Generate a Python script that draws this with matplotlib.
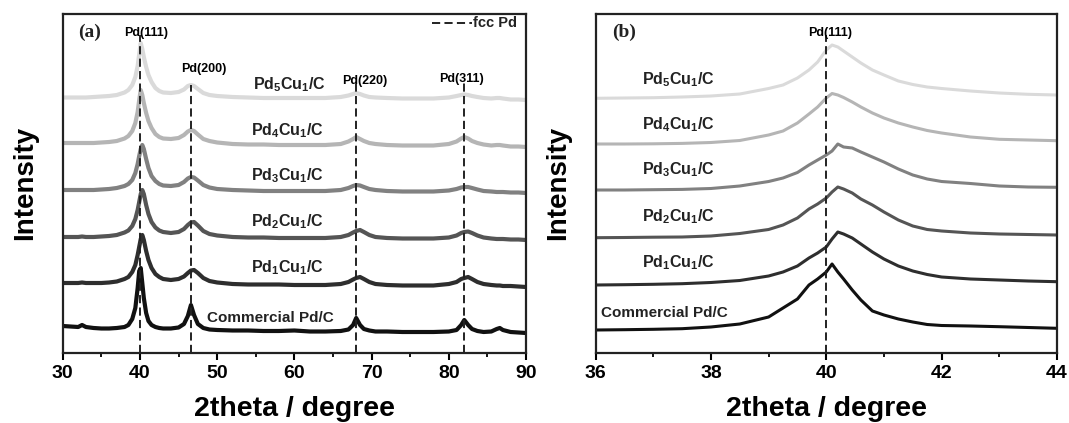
import numpy as np
import matplotlib
matplotlib.use("Agg")
import matplotlib.pyplot as plt
from matplotlib.ticker import MultipleLocator

plt.rcParams['font.family'] = ['Liberation Sans', 'DejaVu Sans']
plt.rcParams['font.weight'] = 'bold'
plt.rcParams['mathtext.fontset'] = 'custom'
plt.rcParams['mathtext.rm'] = 'Liberation Sans:bold'
plt.rcParams['mathtext.it'] = 'Liberation Sans:bold'
plt.rcParams['mathtext.bf'] = 'Liberation Sans:bold'

# sample names, bottom to top
samples = ['Commercial Pd/C', r'Pd$_1$Cu$_1$/C', r'Pd$_2$Cu$_1$/C',
           r'Pd$_3$Cu$_1$/C', r'Pd$_4$Cu$_1$/C', r'Pd$_5$Cu$_1$/C']
colors = ['#111111', '#2e2e2e', '#555555', '#818181', '#b5b5b5', '#dadada']

# reference fcc Pd reflections
fcc_pos = [40.0, 46.6, 68.0, 82.0]
fcc_hkl = ['Pd(111)', 'Pd(200)', 'Pd(220)', 'Pd(311)']

# ---- (a) full scan 30-90 deg ----
tt_a = [30, 31, 32, 32.5, 33, 34, 35, 36, 37, 38, 38.5, 39, 39.4, 39.7, 39.9,
        40.1, 40.3, 40.5, 40.8, 41.1, 41.5, 42, 42.5, 43, 44, 45, 45.7, 46.2,
        46.6, 47.0, 47.5, 48.2, 49, 50, 52, 54, 56, 58, 60, 62, 64, 66, 67,
        67.6, 68.0, 68.5, 69, 69.7, 70.5, 72, 74, 76, 78, 80, 81, 81.6, 82.0,
        82.5, 83, 83.7, 84.5, 85.5, 86.2, 86.6, 87, 88, 89, 90]

int_comm_a = [7, 6.5, 6, 8, 6, 5, 4.5, 4.5, 5, 6, 8, 14, 25, 45, 62,
              65, 50, 35, 20, 12, 8, 6, 5, 4.5, 4.5, 5.5, 9, 17,
              28, 18, 9, 5, 3.5, 3, 2.5, 2.5, 2, 2, 2.5, 1.5, 1.5, 2, 3.5,
              8, 15, 8, 4, 2.5, 1.5, 1.5, 1, 1, 1, 1.5, 3, 8, 13,
              8, 4, 2, 1, 1.5, 4, 5, 3, 1, 0.5, 0]
int_pd1_a = [4, 4, 4, 4.5, 4, 4, 4, 4.5, 5.5, 8, 10, 15, 22, 32, 40,
             48, 52, 47, 36, 27, 19, 13, 10, 8, 7, 8, 10.5, 14,
             16.5, 17, 14, 9, 6, 4.5, 3, 2.5, 2.5, 2.5, 2, 2, 2, 3, 5,
             7.5, 9, 10, 8, 5, 3, 2, 1.5, 1.5, 1.5, 3, 5, 8, 9,
             10, 8, 5, 3, 2, 1.5, 1.5, 1, 1, 0.5, 0]
int_pd2_a = [3, 3, 3, 3.5, 3, 3, 3.5, 4, 5, 7.5, 9.5, 14, 21, 30, 38,
             46, 50, 46, 35, 26, 18, 12.5, 9.5, 8, 7, 8, 11, 15,
             17.5, 18, 14.5, 9, 6, 4.5, 3, 2.5, 2.5, 2, 2, 2, 2, 3, 5,
             7.5, 9, 10, 8, 5, 3, 2, 1.5, 1.5, 1.5, 2.5, 4.5, 7, 8,
             8.5, 7, 4.5, 2.5, 1.5, 1, 1, 1, 0.5, 0.5, 0]
int_pd3_a = [3, 3, 3, 3, 3, 3, 3.5, 4, 5, 7, 9, 13, 20, 29, 37,
             44, 48, 44, 34, 25, 17, 12, 9, 7.5, 7, 8, 11, 14.5,
             16, 15.5, 12.5, 8, 5.5, 4, 3, 2.5, 2, 2, 2, 2, 2, 3, 5,
             7, 8, 7.5, 6, 4, 3, 2, 1.5, 1.5, 1.5, 2.5, 4, 5.5, 6,
             6, 5, 3.5, 2, 1.5, 1, 1, 1, 0.5, 0.5, 0]
int_pd4_a = [4, 4, 4, 4, 4, 4, 4.5, 5, 6, 8.5, 11, 16, 24, 35, 47,
             57, 52, 44, 34, 26, 19, 13, 10, 8.5, 8, 9, 12, 15.5,
             17, 16, 12.5, 8, 6, 4.5, 3, 2.5, 2.5, 2, 2, 2, 2, 3, 5.5,
             8, 10, 8, 6, 4, 3, 2, 1.5, 1.5, 1.5, 3, 5.5, 8.5, 10,
             8.5, 6, 4, 2.5, 1.5, 2, 2, 1.5, 0.5, 0.5, 0]
int_pd5_a = [2.5, 2.5, 2.5, 2.5, 2.5, 3, 3.5, 4, 5, 7.5, 10, 15, 23, 34, 46,
             57, 51, 43, 33, 25, 18, 12, 9, 7.5, 7, 8, 10.5, 14,
             15, 14, 11, 7, 5, 4, 3, 2.5, 2, 2, 2, 2, 2, 3, 4.5,
             6, 7, 6, 4.5, 3, 2.5, 2, 1.5, 1.5, 1.5, 2.5, 4, 5, 5.5,
             5, 4, 3, 2, 1.5, 2, 2, 1.5, 0.5, 0.5, 0]

# ---- (b) Pd(111) region 36-44 deg ----
tt_b = [36, 36.5, 37, 37.5, 38, 38.5, 39, 39.25, 39.5, 39.7, 39.85, 40.0,
        40.1, 40.2, 40.3, 40.45, 40.6, 40.8, 41.0, 41.25, 41.5, 41.75, 42,
        42.5, 43, 43.5, 44]

int_comm_b = [2, 2.3, 2.7, 3.3, 5, 8, 15, 24, 33, 47, 53, 60,
              68, 60, 53, 42, 32, 21, 17, 13, 10, 7.5, 6.5,
              6, 5.3, 4.5, 3.7]
int_pd1_b = [2, 2.3, 2.7, 3.3, 4.5, 6.5, 11, 15, 21, 29, 34, 40,
             48, 55, 53, 49, 43, 35, 28, 21, 16, 12.5, 10,
             8, 7, 6, 5.3]
int_pd2_b = [2.3, 2.5, 2.8, 3, 4, 6.5, 10.5, 15, 22, 31, 36, 42,
             48, 53, 51, 47, 41, 35, 28, 20, 14, 10.5, 9,
             7, 6, 5.5, 5]
int_pd3_b = [2, 2, 2.3, 2.6, 3.5, 6, 10.5, 14, 19.5, 27, 32, 37,
             41, 48, 45, 44, 40, 35, 30, 23, 17, 13, 10.5,
             8.5, 6, 5, 4.7]
int_pd4_b = [1, 1, 1.2, 1.6, 2.5, 4.5, 10, 14, 22, 31, 38, 47,
             51.5, 50, 47.5, 43, 38, 32, 27, 22, 18, 14.5, 12,
             8, 5.7, 5, 4.3]
int_pd5_b = [1.7, 2, 2.3, 3, 4, 6, 11.5, 15, 22, 30, 38, 50,
             55, 53, 49, 43, 37, 30, 25, 19, 15.5, 13, 11.5,
             9, 7, 5.7, 5]

curves_a = [int_comm_a, int_pd1_a, int_pd2_a, int_pd3_a, int_pd4_a, int_pd5_a]
curves_b = [int_comm_b, int_pd1_b, int_pd2_b, int_pd3_b, int_pd4_b, int_pd5_b]

# vertical stacking of the patterns
offsets_a = [19.7, 65.7, 112.7, 159.7, 205.7, 252.7]
offsets_b = [20.7, 65.7, 112.7, 160.7, 207.7, 252.7]
ytop = 338.7

fig = plt.figure(figsize=(10.69, 4.23), dpi=100)
ax1 = fig.add_axes([0.0587, 0.1662, 0.4334, 0.8007])
ax2 = fig.add_axes([0.5572, 0.1662, 0.4315, 0.8007])

dash = (0, (4.2, 2.2))

for ax in (ax1, ax2):
    for s in ax.spines.values():
        s.set_linewidth(1.6)
        s.set_color('#222222')
    ax.set_ylim(0, ytop)
    ax.set_yticks([])
    ax.tick_params(axis='x', which='major', direction='out', length=5, width=1.5,
                   labelsize=14, pad=4, top=False)
    ax.tick_params(axis='x', which='minor', direction='out', length=3, width=1.3,
                   top=False)
    ax.set_ylabel('Intensity', fontsize=20, fontweight='bold', labelpad=18)
    ax.set_xlabel('2theta / degree', fontsize=20.5, fontweight='bold', labelpad=10)

# panel (a)
for y, off, c in zip(curves_a, offsets_a, colors):
    ax1.plot(tt_a, np.array(y) + off, color=c, lw=3.0, solid_joinstyle='round')
ax1.set_xlim(30, 90)
ax1.xaxis.set_major_locator(MultipleLocator(10))
ax1.xaxis.set_minor_locator(MultipleLocator(5))

line_top_a = [318, 268, 271, 271]
for p, top in zip(fcc_pos, line_top_a):
    ax1.plot([p, p], [0, top], color='#222222', lw=1.4, ls=dash)
ax1.text(40.8, 319.4, fcc_hkl[0], fontsize=9, ha='center', va='center')
ax1.text(48.3, 283.4, fcc_hkl[1], fontsize=9, ha='center', va='center')
ax1.text(69.1, 271.7, fcc_hkl[2], fontsize=9, ha='center', va='center')
ax1.text(81.7, 273.7, fcc_hkl[3], fontsize=9, ha='center', va='center')

label_y_a = [34.7, 84.7, 130.7, 176.7, 221.7, 267.7]
label_x_a = [48.7, 54.4, 54.4, 54.4, 54.4, 54.7]
for name, lx, ly in zip(samples, label_x_a, label_y_a):
    ax1.text(lx, ly, name, fontsize=11.5 if 'Comm' not in name else 11,
             ha='left', va='center', color='#222222')

ax1.text(32.0, 320.7, '(a)', fontsize=14, fontweight='bold',
         family='Liberation Serif', ha='left', va='center', color='#222222')
ax1.plot([77.8, 83.0], [329.4, 329.4], color='#222222', lw=1.4, ls=dash)
ax1.text(83.1, 329.4, 'fcc Pd', fontsize=10.5, ha='left', va='center',
         color='#222222')

# panel (b)
for y, off, c in zip(curves_b, offsets_b, colors):
    ax2.plot(tt_b, np.array(y) + off, color=c, lw=2.2, solid_joinstyle='round')
ax2.set_xlim(36, 44)
ax2.xaxis.set_major_locator(MultipleLocator(2))
ax2.xaxis.set_minor_locator(MultipleLocator(1))
ax2.plot([40.0, 40.0], [0, 318], color='#222222', lw=1.4, ls=dash)
ax2.text(40.07, 320, fcc_hkl[0], fontsize=9, ha='center', va='center')

label_y_b = [39.7, 89.7, 135.7, 182.7, 227.7, 272.7]
label_x_b = [36.1, 36.8, 36.8, 36.8, 36.8, 36.8]
for name, lx, ly in zip(samples, label_x_b, label_y_b):
    ax2.text(lx, ly, name, fontsize=11.5 if 'Comm' not in name else 11,
             ha='left', va='center', color='#222222')
ax2.text(36.28, 320.7, '(b)', fontsize=14, fontweight='bold',
         family='Liberation Serif', ha='left', va='center', color='#222222')

fig.savefig('out.png', dpi=100)
